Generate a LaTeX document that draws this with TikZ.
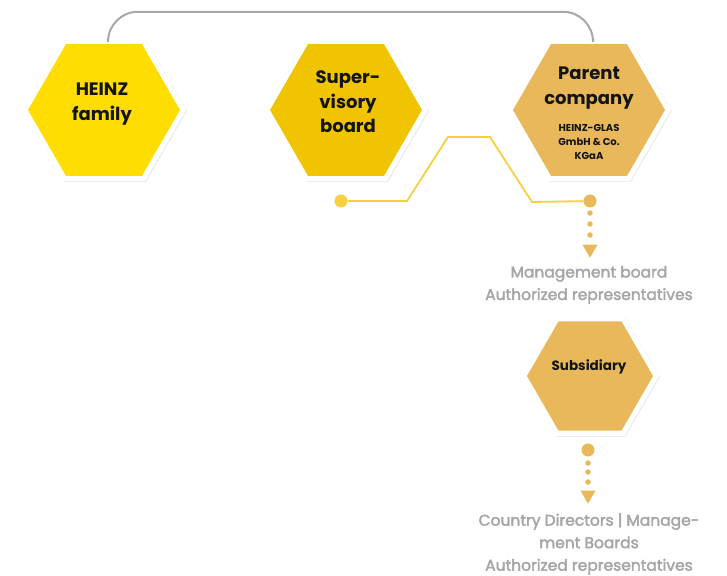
\documentclass[tikz,border=0pt]{standalone}
\usepackage{fontspec}
\setmainfont{Poppins}
\usetikzlibrary{shapes.geometric,shadows}
\definecolor{cHeinz}{RGB}{255,221,0}
\definecolor{cSuper}{RGB}{240,196,0}
\definecolor{cParent}{RGB}{232,184,90}
\definecolor{cLine}{RGB}{245,208,64}
\definecolor{cGrey}{RGB}{168,168,168}
\definecolor{cText}{RGB}{166,166,166}
\definecolor{cBlack}{RGB}{20,20,20}
\tikzset{
  hexout/.style={regular polygon, regular polygon sides=6, inner sep=0pt, fill=white, draw=none,
    drop shadow={opacity=0.15, shadow xshift=1pt, shadow yshift=-1pt}},
  hexin/.style={regular polygon, regular polygon sides=6, inner sep=0pt, draw=none},
  biglabel/.style={align=center, text=cBlack, font=\bfseries\fontsize{18}{24.5}\selectfont},
  smalllabel/.style={align=center, text=cBlack, font=\bfseries\fontsize{10}{14}\selectfont},
  greytext/.style={align=center, text=cText, font=\addfontfeature{FakeBold=2.5}\fontsize{15.5}{22.5}\selectfont},
  bigdot/.style={circle, inner sep=0pt, minimum size=13pt, draw=none},
  smalldot/.style={circle, inner sep=0pt, minimum size=5.5pt, fill=cParent, draw=none},
  tipdown/.style={isosceles triangle, isosceles triangle apex angle=60, shape border rotate=-90,
    inner sep=0pt, minimum height=13pt, fill=cParent, draw=none},
  greyline/.style={draw=cGrey, line width=2pt, rounded corners=30pt},
  yline/.style={draw=cLine, line width=1.8pt},
}
\begin{document}
\begin{tikzpicture}[x=1pt,y=-1pt]
\useasboundingbox (0,0) rectangle (727,575);
% hexagons (outer white frames)
\node[hexout, minimum size=164pt] (hfo) at (104,110) {};
\node[hexout, minimum size=164pt] (sbo) at (346,110) {};
\node[hexout, minimum size=164pt] (pco) at (589,110) {};
\node[hexout, minimum size=138pt] (suo) at (590,376) {};
% grey connector
\draw[greyline] ([xshift=4pt]hfo.north) -- ++(0,-27) -| ([xshift=4pt]pco.north);
% inner hexagons
\node[hexin, minimum size=152pt, fill=cHeinz] (hf) at (104,110) {};
\node[hexin, minimum size=152pt, fill=cSuper] (sb) at (346,110) {};
\node[hexin, minimum size=152pt, fill=cParent] (pc) at (589,110) {};
\node[hexin, minimum size=126pt, fill=cParent] (su) at (590,376) {};
% labels
\node[biglabel] (thf) at (102,104) {HEINZ\\family};
\node[biglabel] (tsb) at (348,102) {Super-\\visory\\board};
\node[biglabel] (tpc) at (589,88) {Parent\\company};
\node[smalllabel] (tpc2) at (589,142) {HEINZ-GLAS\\GmbH \& Co.\\KGaA};
\node[align=center, text=cBlack, font=\bfseries\fontsize{13.5}{15}\selectfont] (tsu) at (589,367) {Subsidiary};
% yellow connector
\node[bigdot, fill=cLine] (d1) at (341,201) {};
\node[bigdot, fill=cParent] (d2) at (590,201) {};
\draw[yline] (d1) -- (407,201) -- (448,137) -- (490,137) -- (532,202) -- (d2);
% first dotted arrow
\node[smalldot] (s1) at (590,213) {};
\node[smalldot] (s2) at (590,224) {};
\node[smalldot] (s3) at (590,235) {};
\node[tipdown] (t1) at (590,249) {};
\node[greytext] (mb) at (589,285) {Management board\\Authorized representatives};
% second dotted arrow
\node[bigdot, fill=cParent] (d3) at (588,450) {};
\node[smalldot] (s4) at (588,463) {};
\node[smalldot] (s5) at (588,472) {};
\node[smalldot] (s6) at (588,482) {};
\node[tipdown] (t2) at (588,495) {};
\node[greytext] (cd) at (589,544) {Country Directors | Manage-\\ment Boards\\Authorized representatives};
\end{tikzpicture}
\end{document}
